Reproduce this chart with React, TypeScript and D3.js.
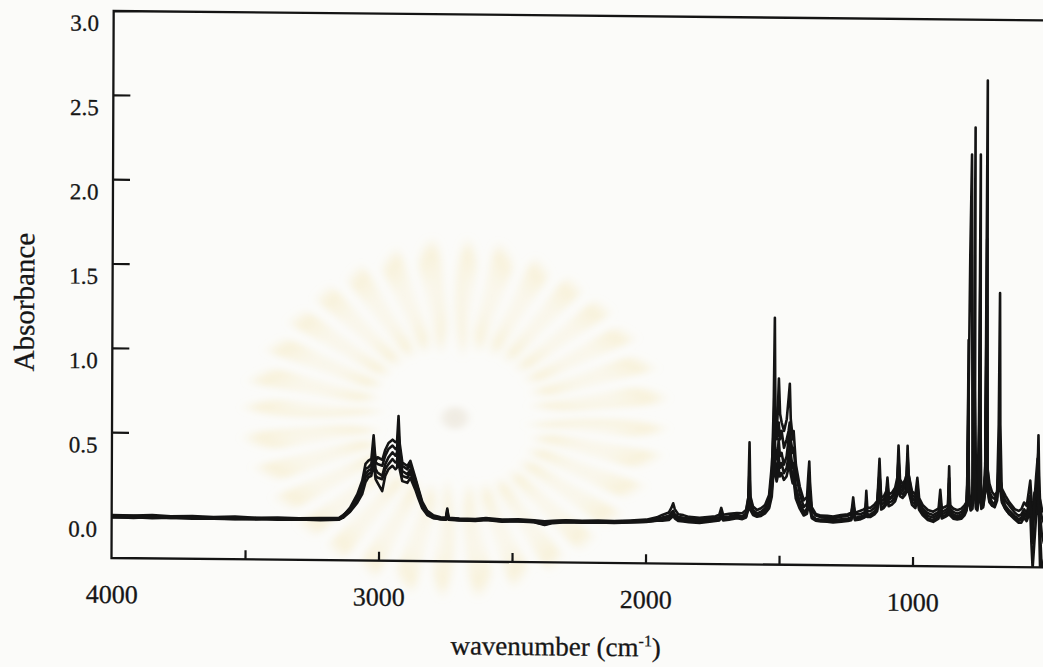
import React from "react";
import * as d3 from "d3";

const WIDTH = 1043;
const HEIGHT = 667;

// Anchor wavenumbers (cm-1), high to low, grouped by spectral region
const WAVENUMBERS = [
  4000, 3920, 3850, 3780, 3700, 3620, 3540, 3460, 3380, 3300, 3220, 3150,
  3135, 3109, 3082, 3064, 3052, 3041, 3030, 3022, 3014, 3007, 2989, 2978, 2966, 2951, 2940, 2934, 2929, 2924, 2914, 2895, 2884, 2865, 2854, 2839, 2820, 2798, 2770, 2750, 2745, 2740, 2700,
  2640, 2600, 2540, 2480, 2420, 2380, 2350, 2300, 2240, 2180, 2120, 2060, 2000, 1960,
  1940, 1915, 1905, 1899, 1893, 1880, 1861, 1840, 1800, 1770, 1740, 1726, 1719, 1712, 1690, 1660,
  1640, 1626, 1618, 1614, 1610, 1600, 1585, 1570, 1555, 1540, 1530, 1524, 1521, 1518, 1512, 1508, 1505, 1500, 1494, 1485, 1475, 1468, 1464, 1460, 1452, 1449, 1440, 1425, 1410, 1398, 1393, 1390, 1387, 1380, 1365, 1345,
  1322, 1300, 1270, 1245, 1232, 1225, 1218, 1200, 1185, 1179, 1176, 1172, 1160, 1145, 1135, 1127, 1120, 1110, 1101, 1097, 1092, 1080, 1068, 1060, 1056, 1050, 1040, 1030, 1025, 1022, 1018, 1005, 992, 985, 978, 965, 945, 925, 905, 899, 893, 880, 870, 866, 862, 850, 835, 820, 808,
  800, 797, 795, 793, 790, 785, 778, 774, 772, 770, 765, 760, 755, 752, 749, 745, 738, 731, 727, 723, 715, 705, 695, 686, 681, 678, 675, 668, 655, 640, 620, 605, 595, 585, 575, 568, 562, 557, 552, 546, 540, 535, 532, 529, 524, 518, 510,
];

// Absorbance of each sample at the anchor wavenumbers
const SAMPLE_1 = [
  0.005, 0.008, 0.002, 0.006, 0, 0.004, 0, 0.003, -0.002, 0.002, 0, 0.005,
  0.02, 0.07, 0.15, 0.23, 0.33, 0.35, 0.36, 0.5, 0.34, 0.33, 0.32, 0.38, 0.42, 0.44, 0.42, 0.43, 0.52, 0.42, 0.32, 0.3, 0.33, 0.24, 0.18, 0.1, 0.05, 0.025, 0.012, 0.012, 0.06, 0.012, 0.008,
  0.006, 0.012, 0.004, 0.006, 0.002, -0.008, 0, 0.004, 0.002, 0.004, 0.002, 0.006, 0.01, 0.02,
  0.03, 0.04, 0.06, 0.07, 0.05, 0.035, 0.03, 0.025, 0.02, 0.025, 0.03, 0.035, 0.06, 0.035, 0.04, 0.05,
  0.04, 0.06, 0.15, 0.48, 0.15, 0.08, 0.06, 0.07, 0.09, 0.14, 0.3, 0.7, 1.22, 0.7, 0.5, 0.55, 0.6, 0.5, 0.55, 0.45, 0.5, 0.55, 0.6, 0.5, 0.42, 0.45, 0.3, 0.18, 0.1, 0.12, 0.2, 0.25, 0.18, 0.08, 0.05, 0.04,
  0.04, 0.035, 0.045, 0.05, 0.06, 0.16, 0.06, 0.06, 0.07, 0.08, 0.14, 0.08, 0.08, 0.1, 0.12, 0.39, 0.14, 0.15, 0.18, 0.24, 0.16, 0.17, 0.2, 0.25, 0.38, 0.24, 0.22, 0.26, 0.3, 0.47, 0.3, 0.18, 0.16, 0.24, 0.14, 0.1, 0.07, 0.06, 0.08, 0.16, 0.08, 0.09, 0.1, 0.28, 0.1, 0.08, 0.07, 0.08, 0.1,
  0.12, 0.2, 0.5, 0.2, 0.14, 0.12, 0.15, 0.4, 0.9, 0.4, 0.15, 0.13, 0.2, 1.0, 0.25, 0.14, 0.15, 0.3, 2.64, 0.35, 0.2, 0.17, 0.16, 0.2, 0.35, 0.55, 0.3, 0.2, 0.15, 0.12, 0.08, 0.06, 0.07, 0.1, 0.08, 0.12, 0.18, 0.1, 0.12, 0.2, 0.15, 0.3, 0.54, 0.3, 0.1, 0.05, 0.02,
];

const SAMPLE_2 = [
  0.012, 0.01, 0.014, 0.008, 0.01, 0.006, 0.01, 0.004, 0.006, 0.004, 0.006, 0.008,
  0.025, 0.06, 0.13, 0.2, 0.3, 0.31, 0.33, 0.44, 0.35, 0.37, 0.355, 0.415, 0.455, 0.475, 0.46, 0.47, 0.615, 0.45, 0.34, 0.32, 0.35, 0.25, 0.19, 0.11, 0.055, 0.03, 0.018, 0.016, 0.07, 0.016, 0.012,
  0.01, 0.016, 0.008, 0.01, 0.006, 0, 0.004, 0.008, 0.006, 0.008, 0.006, 0.01, 0.016, 0.03,
  0.045, 0.06, 0.09, 0.115, 0.08, 0.05, 0.045, 0.035, 0.03, 0.035, 0.04, 0.05, 0.09, 0.05, 0.055, 0.06,
  0.06, 0.08, 0.15, 0.3, 0.16, 0.1, 0.08, 0.09, 0.11, 0.17, 0.35, 0.55, 0.85, 0.6, 0.55, 0.7, 0.86, 0.65, 0.6, 0.55, 0.62, 0.75, 0.83, 0.62, 0.5, 0.55, 0.35, 0.22, 0.14, 0.16, 0.3, 0.37, 0.25, 0.1, 0.06, 0.05,
  0.05, 0.045, 0.055, 0.06, 0.07, 0.12, 0.07, 0.08, 0.09, 0.1, 0.2, 0.1, 0.1, 0.12, 0.14, 0.3, 0.16, 0.17, 0.2, 0.28, 0.18, 0.19, 0.22, 0.28, 0.47, 0.27, 0.24, 0.27, 0.3, 0.42, 0.3, 0.2, 0.18, 0.28, 0.16, 0.12, 0.09, 0.08, 0.1, 0.21, 0.1, 0.11, 0.12, 0.35, 0.12, 0.1, 0.09, 0.1, 0.12,
  0.14, 0.25, 0.7, 0.25, 0.16, 0.14, 0.2, 0.8, 2.36, 0.8, 0.2, 0.15, 0.18, 0.5, 0.2, 0.16, 0.17, 0.3, 1.7, 0.35, 0.25, 0.2, 0.18, 0.2, 0.3, 0.45, 0.28, 0.22, 0.18, 0.14, 0.1, 0.09, 0.1, 0.14, 0.12, 0.2, 0.27, 0.15, 0.1, 0.06, 0.1, 0.2, 0.3, 0.18, 0.15, 0.1, 0.08,
];

const SAMPLE_3 = [
  -0.003, 0, -0.004, 0, -0.006, -0.002, -0.004, -0.006, -0.002, -0.004, -0.002, 0,
  0.015, 0.05, 0.11, 0.17, 0.25, 0.27, 0.28, 0.38, 0.26, 0.25, 0.24, 0.3, 0.33, 0.36, 0.34, 0.35, 0.45, 0.34, 0.26, 0.25, 0.28, 0.2, 0.15, 0.08, 0.035, 0.015, 0.005, 0.004, 0.045, 0.004, 0,
  0, 0.006, -0.002, 0, -0.004, -0.018, -0.006, -0.002, -0.004, -0.002, -0.004, 0, 0.004, 0.012,
  0.015, 0.02, 0.035, 0.05, 0.03, 0.015, 0.012, 0.008, 0.005, 0.01, 0.015, 0.02, 0.04, 0.02, 0.025, 0.035,
  0.03, 0.04, 0.1, 0.22, 0.1, 0.06, 0.045, 0.05, 0.07, 0.1, 0.22, 0.45, 0.68, 0.45, 0.38, 0.42, 0.5, 0.4, 0.42, 0.35, 0.4, 0.5, 0.55, 0.42, 0.33, 0.36, 0.22, 0.13, 0.07, 0.09, 0.15, 0.18, 0.12, 0.05, 0.03, 0.02,
  0.02, 0.015, 0.02, 0.025, 0.03, 0.09, 0.03, 0.035, 0.045, 0.05, 0.11, 0.05, 0.05, 0.07, 0.09, 0.25, 0.1, 0.11, 0.14, 0.2, 0.13, 0.14, 0.16, 0.2, 0.33, 0.2, 0.18, 0.2, 0.23, 0.36, 0.23, 0.14, 0.12, 0.19, 0.1, 0.07, 0.04, 0.03, 0.05, 0.12, 0.05, 0.06, 0.07, 0.2, 0.07, 0.05, 0.045, 0.05, 0.07,
  0.1, 0.3, 0.6, 1.0, 1.6, 2.2, 0.12, 0.3, 0.7, 0.3, 0.11, 0.1, 0.25, 1.5, 0.3, 0.12, 0.12, 0.2, 1.0, 0.25, 0.15, 0.12, 0.11, 0.15, 0.25, 0.4, 0.22, 0.14, 0.1, 0.07, 0.04, 0.02, 0.02, 0.05, 0.03, 0.06, 0.1, -0.1, -0.25, -0.1, 0.05, 0.1, 0.2, 0.1, -0.05, -0.25, -0.25,
];

const SAMPLE_4 = [
  0.008, 0.004, 0.006, 0.002, 0.004, 0, 0.002, 0, 0.002, -0.002, 0.002, 0.004,
  0.01, 0.045, 0.1, 0.15, 0.22, 0.25, 0.26, 0.34, 0.24, 0.22, 0.17, 0.26, 0.3, 0.32, 0.3, 0.31, 0.4, 0.3, 0.23, 0.22, 0.25, 0.18, 0.13, 0.07, 0.03, 0.012, 0.008, 0.006, 0.04, 0.006, 0.004,
  0.004, 0.01, 0.002, 0.004, 0, -0.012, -0.002, 0.002, 0, 0.002, 0, 0.004, 0.008, 0.018,
  0.025, 0.03, 0.045, 0.06, 0.04, 0.025, 0.02, 0.018, 0.012, 0.018, 0.022, 0.028, 0.05, 0.028, 0.032, 0.04,
  0.035, 0.05, 0.09, 0.18, 0.09, 0.065, 0.05, 0.055, 0.075, 0.11, 0.2, 0.38, 0.55, 0.38, 0.3, 0.33, 0.4, 0.33, 0.36, 0.3, 0.33, 0.4, 0.45, 0.35, 0.28, 0.3, 0.18, 0.11, 0.06, 0.08, 0.13, 0.16, 0.11, 0.045, 0.03, 0.025,
  0.03, 0.025, 0.03, 0.035, 0.04, 0.1, 0.04, 0.045, 0.055, 0.06, 0.13, 0.06, 0.06, 0.08, 0.1, 0.3, 0.12, 0.13, 0.16, 0.23, 0.15, 0.16, 0.18, 0.23, 0.4, 0.22, 0.2, 0.23, 0.26, 0.4, 0.26, 0.16, 0.14, 0.22, 0.12, 0.085, 0.055, 0.045, 0.065, 0.14, 0.065, 0.075, 0.085, 0.25, 0.085, 0.065, 0.055, 0.065, 0.085,
  0.11, 0.3, 0.9, 0.3, 0.12, 0.11, 0.13, 0.4, 0.9, 0.35, 0.13, 0.15, 0.6, 2.2, 0.6, 0.14, 0.14, 0.35, 1.3, 0.3, 0.18, 0.14, 0.13, 0.17, 0.28, 0.42, 0.25, 0.17, 0.12, 0.09, 0.06, 0.04, 0.05, 0.08, 0.06, 0.1, 0.16, 0.08, 0.05, 0.1, 0.2, 0.35, 0.45, 0.2, 0.05, -0.05, -0.1,
];

const SAMPLE_5 = [
  0, -0.004, 0.002, -0.002, 0, -0.004, -0.006, -0.002, -0.006, -0.004, -0.006, -0.002,
  0.012, 0.055, 0.12, 0.19, 0.27, 0.29, 0.3, 0.42, 0.3, 0.28, 0.26, 0.33, 0.37, 0.4, 0.38, 0.4, 0.5, 0.38, 0.29, 0.27, 0.3, 0.22, 0.16, 0.09, 0.04, 0.02, 0.01, 0.008, 0.05, 0.008, 0.002,
  -0.002, 0.004, -0.004, -0.002, -0.006, -0.022, -0.01, -0.004, -0.006, -0.004, -0.006, -0.002, 0.002, 0.01,
  0.01, 0.015, 0.03, 0.04, 0.025, 0.01, 0.008, 0.004, 0, 0.006, 0.012, 0.016, 0.035, 0.016, 0.02, 0.03,
  0.025, 0.035, 0.08, 0.14, 0.08, 0.05, 0.04, 0.045, 0.06, 0.09, 0.16, 0.3, 0.45, 0.3, 0.25, 0.28, 0.33, 0.28, 0.3, 0.26, 0.28, 0.33, 0.38, 0.3, 0.24, 0.27, 0.15, 0.09, 0.05, 0.06, 0.1, 0.13, 0.09, 0.035, 0.02, 0.015,
  0.015, 0.01, 0.015, 0.02, 0.025, 0.07, 0.025, 0.03, 0.04, 0.045, 0.09, 0.045, 0.045, 0.06, 0.08, 0.2, 0.09, 0.1, 0.12, 0.17, 0.11, 0.12, 0.14, 0.18, 0.28, 0.17, 0.16, 0.18, 0.2, 0.3, 0.2, 0.12, 0.1, 0.16, 0.09, 0.06, 0.03, 0.02, 0.04, 0.1, 0.04, 0.05, 0.06, 0.16, 0.06, 0.04, 0.035, 0.04, 0.06,
  0.09, 0.4, 1.1, 0.4, 0.12, 0.09, 0.1, 0.25, 0.6, 0.25, 0.1, 0.09, 0.15, 0.7, 0.2, 0.1, 0.11, 0.2, 0.9, 0.22, 0.14, 0.12, 0.12, 0.2, 0.6, 1.38, 0.6, 0.15, 0.1, 0.07, 0.05, 0.03, 0.04, 0.07, 0.05, 0.08, 0.14, 0.05, -0.1, 0.15, 0.3, 0.4, 0.25, 0.05, -0.25, -0.25, -0.2,
];

const SAMPLES = [SAMPLE_1, SAMPLE_2, SAMPLE_3, SAMPLE_4, SAMPLE_5];

const Y_TICKS = [0.5, 1.0, 1.5, 2.0, 2.5];
const Y_TICK_LABELS = [0, 0.5, 1.0, 1.5, 2.0, 2.5, 3.0];
const X_TICKS = [3500, 3000, 2500, 2000, 1500, 1000];
const X_TICK_LABELS = [4000, 3000, 2000, 1000];

const SERIF = "'Liberation Serif', 'Times New Roman', serif";
const INK = "#141414";
const TEXT_INK = "#161616";

export default function App() {
  const x = d3.scaleLinear().domain([4000, 1000]).range([112, 913]);
  const y = d3.scaleLinear().domain([0, 3]).range([517, 11]);

  const frameLeft = 111.5;
  const frameTop = 11;
  const frameBottom = 558;
  const frameRight = 1080;

  const line = d3
    .line<[number, number]>()
    .x((d) => x(d[0]))
    .y((d) => y(d[1]));

  const paths = SAMPLES.map((s) => {
    const n = Math.min(s.length, WAVENUMBERS.length);
    const pts: [number, number][] = [];
    for (let i = 0; i < n; i++) pts.push([WAVENUMBERS[i], s[i]]);
    return line(pts) || "";
  });

  // faint emblem behind the plot
  const rayCount = 32;
  const rays = d3.range(rayCount).map((i) => {
    const a0 = (i / rayCount) * Math.PI * 2;
    return d3.arc()({
      innerRadius: 60,
      outerRadius: 215,
      startAngle: a0,
      endAngle: a0 + ((Math.PI * 2) / rayCount) * 0.6,
    } as any) as string;
  });

  return (
    <svg
      width={WIDTH}
      height={HEIGHT}
      style={{ position: "absolute", left: 0, top: 0, background: "#fbfbf9" }}
    >
      <defs>
        <clipPath id="plotArea">
          <rect x={frameLeft} y={frameTop} width={frameRight - frameLeft} height={frameBottom - frameTop} />
        </clipPath>
        <radialGradient id="rayFade" cx="0.5" cy="0.5" r="0.5">
          <stop offset="0.25" stopColor="#f6ebc4" stopOpacity={0.25} />
          <stop offset="0.75" stopColor="#f3e2a8" stopOpacity={0.38} />
          <stop offset="1" stopColor="#f3e2a8" stopOpacity={0} />
        </radialGradient>
        <filter id="soft" x="-20%" y="-20%" width="140%" height="140%">
          <feGaussianBlur stdDeviation={4} />
        </filter>
      </defs>
      <rect width={WIDTH} height={HEIGHT} fill="#fbfbf9" />
      <g transform="translate(455,418) scale(1,0.85)" filter="url(#soft)">
        {rays.map((d, i) => (
          <path key={i} d={d} fill="url(#rayFade)" />
        ))}
        <circle r={13} fill="#e9e3d6" opacity={0.6} />
      </g>

      <g transform={`matrix(1,0.01,-0.004,1,${0.004 * 558},${-0.01 * 111})`}>
        {/* spectra */}
        <g clipPath="url(#plotArea)">
          {paths.map((d, i) => (
            <path
              key={i}
              d={d}
              fill="none"
              stroke={INK}
              strokeWidth={2.6}
              strokeLinejoin="round"
              strokeLinecap="round"
            />
          ))}
        </g>

        {/* frame */}
        <path
          d={`M${frameRight},${frameTop}H${frameLeft}V${frameBottom}H${frameRight}`}
          fill="none"
          stroke={INK}
          strokeWidth={2.3}
        />

        {/* y ticks and labels */}
        {Y_TICKS.map((v) => (
          <line key={v} x1={frameLeft} x2={frameLeft + 17} y1={y(v)} y2={y(v)} stroke={INK} strokeWidth={2.2} />
        ))}
        {Y_TICK_LABELS.map((v) => (
          <text
            key={v}
            x={97}
            y={y(v) + 20}
            textAnchor="end"
            fontFamily={SERIF}
            fontSize={23}
            fill={TEXT_INK}
            stroke={TEXT_INK}
            strokeWidth={0.3}
          >
            {d3.format(".1f")(v)}
          </text>
        ))}

        {/* x ticks and labels */}
        {X_TICKS.map((v) => (
          <line key={v} x1={x(v)} x2={x(v)} y1={frameBottom} y2={frameBottom - 9} stroke={INK} strokeWidth={2.2} />
        ))}
        {X_TICK_LABELS.map((v) => (
          <text
            key={v}
            x={x(v)}
            y={603}
            textAnchor="middle"
            fontFamily={SERIF}
            fontSize={26}
            fill={TEXT_INK}
            stroke={TEXT_INK}
            strokeWidth={0.3}
          >
            {v}
          </text>
        ))}

        {/* axis titles */}
        <text
          x={556}
          y={651}
          textAnchor="middle"
          fontFamily={SERIF}
          fontSize={27}
          fill={TEXT_INK}
          stroke={TEXT_INK}
          strokeWidth={0.3}
        >
          wavenumber (cm
          <tspan fontSize={16} dy={-10}>-1</tspan>
          <tspan dy={10}>)</tspan>
        </text>
        <text
          transform="translate(33,303) rotate(-90)"
          textAnchor="middle"
          fontFamily={SERIF}
          fontSize={29}
          fill={TEXT_INK}
          stroke={TEXT_INK}
          strokeWidth={0.3}
        >
          Absorbance
        </text>
      </g>
    </svg>
  );
}
